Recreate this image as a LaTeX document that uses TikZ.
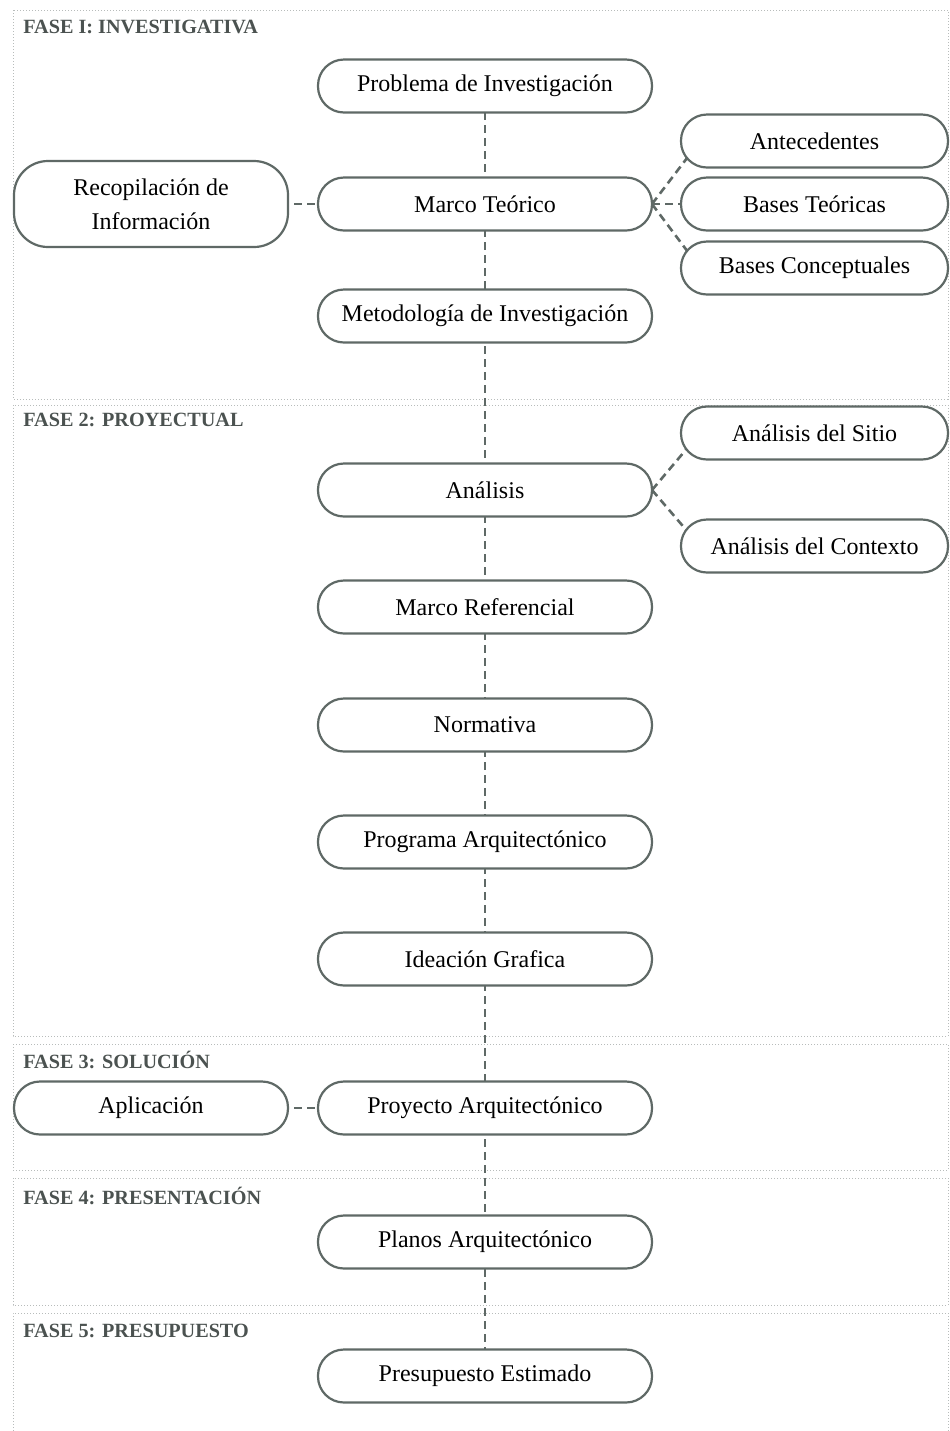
\documentclass[tikz,border=0pt]{standalone}
\usepackage{fontspec}
\setmainfont{Liberation Serif}
\usepackage{tikz}
\definecolor{linea}{HTML}{5F6966}
\definecolor{marco}{HTML}{B8BCBB}
\definecolor{titulo}{HTML}{4B5250}

\begin{document}
\begin{tikzpicture}[x=0.5pt,y=-0.5pt,
	caja/.style={draw=linea, line width=1.1pt, fill=white, rounded corners=13pt,
		minimum width=167pt, minimum height=26.5pt, align=center, inner sep=0pt,
		font=\fontsize{12}{15}\selectfont},
	cajader/.style={caja, minimum width=133.5pt},
	cajaizq/.style={caja, minimum width=137pt},
	guion/.style={draw=linea, line width=1.3pt, dash pattern=on 4pt off 2.5pt},
	fase/.style={draw=marco, line width=0.5pt, densely dotted},
	titfase/.style={anchor=west, inner sep=0pt, text=titulo, font=\bfseries\fontsize{10.1}{12}\selectfont}]
			\useasboundingbox (0,0) rectangle (949,1431);
			% marcos de las fases
			\draw[fase] (13,10) rectangle (948,399);
			\draw[fase] (13,405) rectangle (948,1036);
			\draw[fase] (13,1044) rectangle (948,1170);
			\draw[fase] (13,1178) rectangle (948,1305);
			\draw[fase] (13,1431) -- (13,1313) -- (948,1313) -- (948,1431);
			\node[titfase] (t1) at (23,27) {FASE I: INVESTIGATIVA};
			\node[titfase] (t2) at (23,420) {FASE 2: PROYECTUAL};
			\node[titfase] (t3) at (23,1060) {FASE 3: SOLUCIÓN};
			\node[titfase] (t4) at (23,1196) {FASE 4: PRESENTACIÓN};
			\node[titfase] (t5) at (23,1331) {FASE 5: PRESUPUESTO};
			% conectores
			\coordinate (c1) at (485,86);
			\coordinate (c11) at (485,1376);
			\draw[guion] (c1) -- (c11);
			\draw[guion] (151,204) -- (485,204);
			\draw[guion] (151,1108) -- (485,1108);
			\draw[guion] (652,204) -- (700,141);
			\draw[guion] (652,204) -- (700,204);
			\draw[guion] (652,204) -- (700,268);
			\draw[guion] (652,490) -- (700,433);
			\draw[guion] (652,490) -- (700,546);
			% columna central
			\node[caja] (prob) at (485,86) {Problema de Investigación};
			\node[caja] (marco) at (485,204) {Marco Teórico};
			\node[caja] (metod) at (485,316) {Metodología de Investigación};
			\node[caja] (anal) at (485,490) {Análisis};
			\node[caja] (ref) at (485,607) {Marco Referencial};
			\node[caja] (norm) at (485,725) {Normativa};
			\node[caja] (prog) at (485,842) {Programa Arquitectónico};
			\node[caja] (idea) at (485,959) {Ideación Grafica};
			\node[caja] (proy) at (485,1108) {Proyecto Arquitectónico};
			\node[caja] (plan) at (485,1242) {Planos Arquitectónico};
			\node[caja] (pres) at (485,1376) {Presupuesto Estimado};
			% izquierda
			\node[cajaizq, minimum height=43pt, rounded corners=17pt] (recop) at (151,204) {Recopilación de\\[2pt]Información};
			\node[cajaizq] (apl) at (151,1108) {Aplicación};
			% derecha
			\node[cajader] (ante) at (814.5,141) {Antecedentes};
			\node[cajader] (bteo) at (814.5,204) {Bases Teóricas};
			\node[cajader] (bcon) at (814.5,268) {Bases Conceptuales};
			\node[cajader] (sitio) at (814.5,433) {Análisis del Sitio};
			\node[cajader] (cont) at (814.5,546) {Análisis del Contexto};
\end{tikzpicture}
\end{document}
